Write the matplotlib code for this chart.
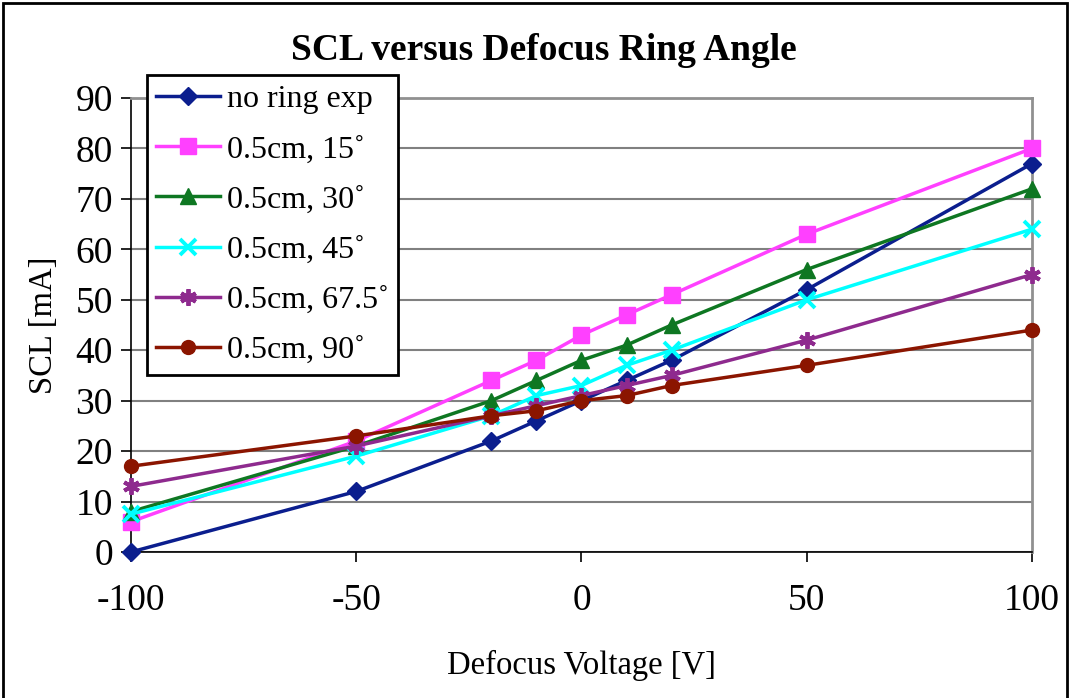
import matplotlib
matplotlib.use("Agg")
import matplotlib.pyplot as plt
from matplotlib.patches import Rectangle

plt.rcParams['font.family'] = ['Liberation Serif', 'DejaVu Serif']
plt.rcParams['axes.unicode_minus'] = False

# Data
voltage = [-100, -50, -20, -10, 0, 10, 20, 50, 100]
no_ring = [0, 12, 22, 26, 30, 34, 38, 52, 77]
deg15 = [6, 22, 34, 38, 43, 47, 51, 63, 80]
deg30 = [8, 21, 30, 34, 38, 41, 45, 56, 72]
deg45 = [7.5, 19, 27, 31, 33, 37, 40, 50, 64]
deg67 = [13, 21, 27, 29, 31, 33, 35, 42, 55]
deg90 = [17, 23, 27, 28, 30, 31, 33, 37, 44]

labels = ["no ring exp", "0.5cm, 15˚", "0.5cm, 30˚", "0.5cm, 45˚",
          "0.5cm, 67.5˚", "0.5cm, 90˚"]
series = [no_ring, deg15, deg30, deg45, deg67, deg90]
colors = ["#0B1E8E", "#FF40FF", "#0E7722", "#00FFFF", "#8E2A8E", "#8B1500"]
markers = ["D", "s", "^", "x", (6, 2, 0), "o"]
msizes = [9, 11, 11, 11, 12, 10]

fig = plt.figure(figsize=(10.7, 6.98), dpi=100)
ax = fig.add_axes([0.1224, 0.2092, 0.8421, 0.6504])

for ys, lab, c, m, ms in zip(series, labels, colors, markers, msizes):
    ax.plot(voltage, ys, color=c, marker=m, markersize=ms, linewidth=2.5,
            markeredgewidth=2.8 if m in ("x", (6, 2, 0)) else 1,
            markeredgecolor=c, label=lab, clip_on=False, zorder=3)

ax.set_xlim(-100, 100)
ax.set_ylim(0, 90)
ax.set_xticks([-100, -50, 0, 50, 100])
ax.set_yticks(range(0, 91, 10))
ax.grid(axis='y', color='#808080', linewidth=1.5)
ax.set_axisbelow(True)

for side in ('top', 'right'):
    ax.spines[side].set_color('#909090')
    ax.spines[side].set_linewidth(2)
for side in ('left', 'bottom'):
    ax.spines[side].set_color('black')
    ax.spines[side].set_linewidth(1.2)

ax.tick_params(axis='both', labelsize=27, direction='out', length=7,
               width=1.2, pad=6)
ax.tick_params(axis='x', pad=16)

ax.set_xlabel("Defocus Voltage [V]", fontsize=23.5, labelpad=23)
ax.set_ylabel("SCL [mA]", fontsize=23.5, labelpad=12)
fig.text(0.508, 0.928, "SCL versus Defocus Ring Angle", fontsize=27,
         fontweight='bold', ha='center', va='center')

leg = ax.legend(loc='upper left', bbox_to_anchor=(0.137, 0.892),
                bbox_transform=fig.transFigure, fontsize=23,
                frameon=True, fancybox=False, edgecolor='black',
                framealpha=1, borderpad=0.3, labelspacing=0.65,
                handlelength=2.0, handletextpad=0.22, borderaxespad=0)
leg.get_frame().set_linewidth(2)

# outer chart border
fig.patches.append(Rectangle((0.003, -0.01), 0.994, 1.005,
                             transform=fig.transFigure, fill=False,
                             edgecolor='black', linewidth=2))

fig.savefig("out.png", dpi=100)
